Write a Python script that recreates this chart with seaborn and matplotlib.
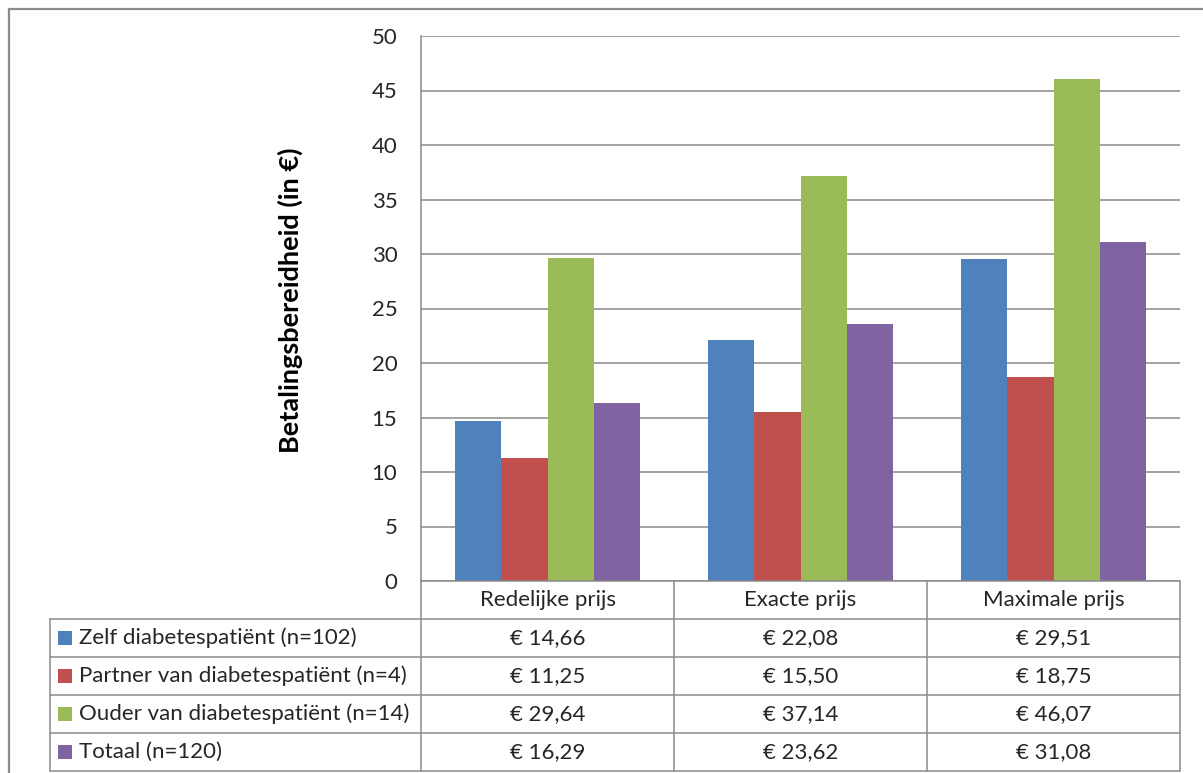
import matplotlib
matplotlib.use("Agg")
import matplotlib.pyplot as plt
import matplotlib.patches as mpatches
from matplotlib.lines import Line2D
import pandas as pd
import seaborn as sns

categories = ["Redelijke prijs", "Exacte prijs", "Maximale prijs"]
groups = [
    "Zelf diabetespatiënt (n=102)",
    "Partner van diabetespatiënt (n=4)",
    "Ouder van diabetespatiënt (n=14)",
    "Totaal (n=120)",
]
zelf = [14.66, 22.08, 29.51]
partner = [11.25, 15.50, 18.75]
ouder = [29.64, 37.14, 46.07]
totaal = [16.29, 23.62, 31.08]
yticks = [0, 5, 10, 15, 20, 25, 30, 35, 40, 45, 50]
ylabel = "Betalingsbereidheid (in €)"

colors = ["#4F81BD", "#C0504D", "#9BBB59", "#8064A2"]
series = [zelf, partner, ouder, totaal]

rows = []
for g, vals in zip(groups, series):
    for c, v in zip(categories, vals):
        rows.append({"categorie": c, "groep": g, "waarde": v})
df = pd.DataFrame(rows)

sns.set_theme(style="white")
plt.rcParams["font.family"] = ["Lato", "DejaVu Sans"]

W, H = 1203, 773
fig = plt.figure(figsize=(W / 100, H / 100), dpi=100)


def fx(px):
    return px / W


def fy(py):
    return 1 - py / H


# plot area in pixel geometry
left, right, top, bottom = 421, 1180, 36, 581
ax = fig.add_axes([fx(left), fy(bottom), fx(right) - fx(left), fy(top) - fy(bottom)])

sns.barplot(data=df, x="categorie", y="waarde", hue="groep", order=categories,
            hue_order=groups, palette=colors, width=0.73, gap=0, ax=ax,
            legend=False, errorbar=None, saturation=1, linewidth=0)

ax.set_ylim(0, 50)
ax.set_xlim(-0.5, 2.5)
ax.set_yticks(yticks)
ax.set_yticklabels([str(t) for t in yticks], fontsize=16, color="#262626")
ax.tick_params(axis="y", length=0, pad=17)
ax.set_xticks([])
ax.set_xlabel("")
ax.set_ylabel(ylabel, fontsize=19.5, fontweight="bold", color="black")
ax.yaxis.label.set_va("center")
ax.yaxis.set_label_coords((290 - left) / (right - left), (bottom - 300) / (bottom - top))
ax.yaxis.grid(True, color="#8a8a8a", linewidth=1.1)
ax.set_axisbelow(True)
for s in ["top", "right", "bottom"]:
    ax.spines[s].set_visible(False)
ax.spines["left"].set_color("#8a8a8a")
ax.spines["left"].set_linewidth(1.1)

# data table below the plot
line_kw = dict(color="#8a8a8a", linewidth=1.1, transform=fig.transFigure)
col_x = [421, 674, 927, 1180]
row_y = [581, 619, 657, 695, 733, 771]
tab_left = 50

fig.add_artist(Line2D([fx(left), fx(right)], [fy(581), fy(581)], **line_kw))
for y in row_y[1:]:
    fig.add_artist(Line2D([fx(tab_left), fx(right)], [fy(y), fy(y)], **line_kw))
fig.add_artist(Line2D([fx(tab_left), fx(tab_left)], [fy(619), fy(771)], **line_kw))
for x in col_x:
    fig.add_artist(Line2D([fx(x), fx(x)], [fy(581), fy(771)], **line_kw))

txt_kw = dict(fontsize=16, color="#262626", va="center", transform=fig.transFigure)
for i, c in enumerate(categories):
    cx = (col_x[i] + col_x[i + 1]) / 2
    fig.text(fx(cx), fy((row_y[0] + row_y[1]) / 2), c, ha="center", **txt_kw)

for r, (g, vals, col) in enumerate(zip(groups, series, colors)):
    cy = (row_y[r + 1] + row_y[r + 2]) / 2
    sq = 14
    fig.add_artist(mpatches.Rectangle((fx(58), fy(cy + sq / 2)), fx(sq), sq / H,
                                      facecolor=col, edgecolor="none",
                                      transform=fig.transFigure))
    fig.text(fx(79), fy(cy), g, ha="left", **txt_kw)
    for i, v in enumerate(vals):
        cx = (col_x[i] + col_x[i + 1]) / 2
        label = "€ " + f"{v:.2f}".replace(".", ",")
        fig.text(fx(cx), fy(cy), label, ha="center", **txt_kw)

# outer chart border
fig.add_artist(mpatches.Rectangle((fx(9), fy(790)), fx(1220 - 9), (790 - 9) / H,
                                  facecolor="none", edgecolor="#8c8c8c",
                                  linewidth=1.6, transform=fig.transFigure))

fig.savefig("out.png", dpi=100)
